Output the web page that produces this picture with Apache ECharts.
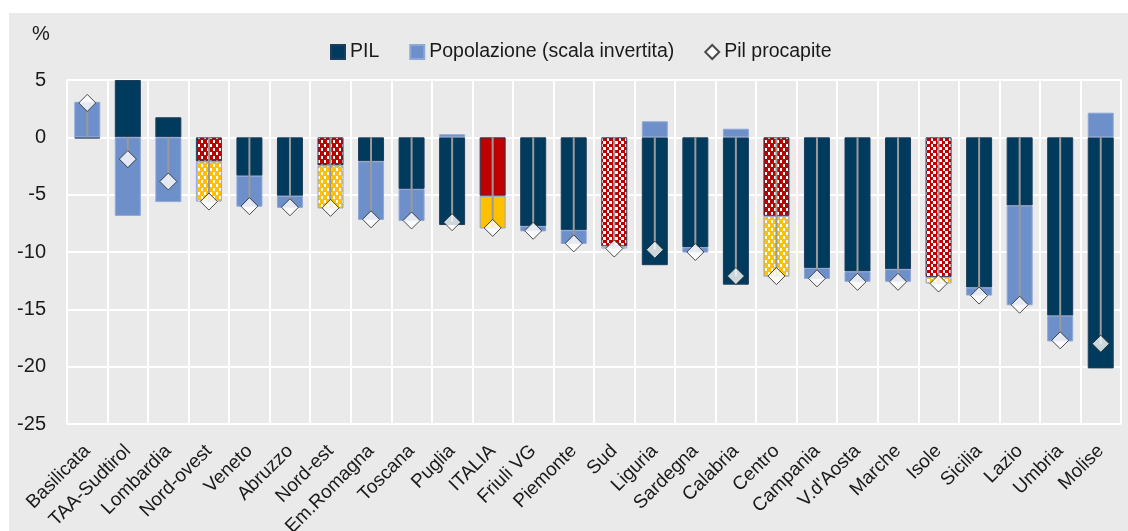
<!DOCTYPE html>
<html>
<head>
<meta charset="utf-8">
<script src="https://cdn.jsdelivr.net/npm/echarts@6/dist/echarts.min.js"></script>
<style>
html,body{margin:0;padding:0;background:#ffffff;}
#bg{position:absolute;left:9px;top:13px;width:1119px;height:518px;background:#eaeaea;}
#chart{position:absolute;left:0;top:0;width:1128px;height:531px;}
</style>
</head>
<body>
<div id="bg"></div>
<div id="chart"></div>
<script>
// ---- data ----
const categories = ['Basilicata','TAA-Sudtirol','Lombardia','Nord-ovest','Veneto','Abruzzo','Nord-est','Em.Romagna','Toscana','Puglia','ITALIA','Friuli VG','Piemonte','Sud','Liguria','Sardegna','Calabria','Centro','Campania',"V.d'Aosta",'Marche','Isole','Sicilia','Lazio','Umbria','Molise'];
const pil = [-0.1, 5.0, 1.75, -2.1, -3.35, -5.1, -2.45, -2.1, -4.5, -7.65, -5.1, -7.75, -8.1, -9.5, -11.15, -9.6, -12.85, -6.85, -11.4, -11.7, -11.5, -12.2, -13.1, -5.95, -15.55, -20.15];
const popolazione = [3.1, -6.85, -5.65, -3.5, -2.7, -1.05, -3.75, -5.1, -2.8, 0.27, -2.85, -0.45, -1.2, -0.2, 1.4, -0.45, 0.75, -5.3, -0.95, -0.9, -1.1, -0.55, -0.7, -8.7, -2.25, 2.15];
const pilProcapite = [3.0, -1.9, -3.85, -5.6, -6.0, -6.1, -6.15, -7.15, -7.25, -7.4, -7.9, -8.15, -9.25, -9.7, -9.8, -10.0, -12.1, -12.1, -12.3, -12.6, -12.6, -12.75, -13.8, -14.6, -17.7, -18.0];
const yTicks = [5, 0, -5, -10, -15, -20, -25];

// ---- styles (aggregates) ----
const aggregateStyle = {'Nord-ovest':'dots','Nord-est':'dots','Centro':'dots','ITALIA':'solid','Sud':'check','Isole':'check'};

const C_PIL = '#003a5c';
const C_POP = '#6d8fca';
const C_RED = '#c00000';
const C_YEL = '#ffc000';

function makePattern(bg, kind){
  const c = document.createElement('canvas');
  if (kind === 'dots') {
    c.width = 6; c.height = 8;
    const g = c.getContext('2d');
    g.fillStyle = bg; g.fillRect(0,0,6,8);
    g.fillStyle = '#ffffff';
    g.fillRect(0,0,2,3);
    g.fillRect(3,4,2,3);
  } else {
    c.width = 6; c.height = 6;
    const g = c.getContext('2d');
    g.fillStyle = bg; g.fillRect(0,0,6,6);
    g.fillStyle = '#ffffff';
    g.fillRect(0,0,3,3);
    g.fillRect(3,3,3,3);
    g.fillStyle = bg;
    g.fillRect(0,0,1,6);
  }
  return {image: c, repeat: 'repeat'};
}
const patRedDots = makePattern(C_RED,'dots');
const patYelDots = makePattern(C_YEL,'dots');
const patRedCheck = makePattern(C_RED,'check');
const patYelCheck = makePattern(C_YEL,'check');

function pilItem(v, i){
  const s = aggregateStyle[categories[i]];
  if (!s) return v;
  const color = s==='solid' ? C_RED : (s==='dots' ? patRedDots : patRedCheck);
  return {value: v, itemStyle: {color: color, borderColor: '#1d3d5c'}};
}
function popItem(v, i){
  const s = aggregateStyle[categories[i]];
  if (!s) return v;
  const color = s==='solid' ? C_YEL : (s==='dots' ? patYelDots : patYelCheck);
  return {value: v, itemStyle: {color: color, borderColor: '#8ea8d6'}};
}

const FONT = "Arial, 'Liberation Sans', sans-serif";
const chart = echarts.init(document.getElementById('chart'), null, {renderer:'canvas'});

chart.setOption({
  backgroundColor: 'transparent',
  animation: false,
  textStyle: {fontFamily: FONT, color: '#1a1a1a'},
  graphic: [{
    type: 'text', left: 32, top: 24,
    style: {text: '%', fontSize: 20, fontFamily: FONT, fill: '#1a1a1a'}
  }],
  legend: {
    left: 330, top: 42, padding: 0,
    itemWidth: 14, itemHeight: 14, itemGap: 30,
    textStyle: {fontSize: 19.5, fontFamily: FONT, color: '#1a1a1a'},
    data: [
      {name: 'PIL', icon: 'rect'},
      {name: 'Popolazione (scala invertita)', icon: 'rect'},
      {name: 'Pil procapite', icon: 'diamond'}
    ]
  },
  grid: {left: 67, right: 7, top: 80, bottom: 107, containLabel: false, outerBoundsMode: 'none'},
  xAxis: {
    type: 'category', data: categories,
    axisLine: {show: false}, axisTick: {show: false},
    splitLine: {show: true, interval: 0, lineStyle: {color: '#ffffff', width: 2}},
    axisLabel: {interval: 0, rotate: 45, fontSize: 19, fontFamily: FONT, color: '#1a1a1a', margin: 24}
  },
  yAxis: {
    type: 'value', min: -25, max: 5, interval: 5,
    axisLine: {show: false}, axisTick: {show: false},
    splitLine: {show: true, lineStyle: {color: '#ffffff', width: 2}},
    axisLabel: {fontSize: 20, fontFamily: FONT, color: '#1a1a1a', margin: 21,
      formatter: v => (yTicks.indexOf(v) >= 0 ? String(v) : '')}
  },
  series: [
    {
      name: 'PIL', type: 'bar', stack: 'a', barWidth: 26,
      itemStyle: {color: C_PIL, borderColor: '#1d3d5c', borderWidth: 1},
      data: pil.map(pilItem), z: 2
    },
    {
      name: 'Popolazione (scala invertita)', type: 'bar', stack: 'a', barWidth: 26,
      itemStyle: {color: C_POP, borderColor: '#8ea8d6', borderWidth: 1},
      data: popolazione.map(popItem), z: 2
    },
    {
      type: 'custom', z: 3, silent: true,
      data: pilProcapite.map((v, i) => [i, v]),
      renderItem: function(params, api){
        const p0 = api.coord([api.value(0), 0]);
        const p1 = api.coord([api.value(0), api.value(1)]);
        return {type: 'line', shape: {x1: p0[0], y1: p0[1], x2: p1[0], y2: p1[1]},
          style: {stroke: '#9a9a9a', lineWidth: 2}};
      }
    },
    {
      name: 'Pil procapite', type: 'scatter', symbol: 'diamond', symbolSize: 17, z: 4,
      itemStyle: {color: '#ffffff', borderColor: '#222222', borderWidth: 1},
      data: pilProcapite
    }
  ]
});
</script>
</body>
</html>
